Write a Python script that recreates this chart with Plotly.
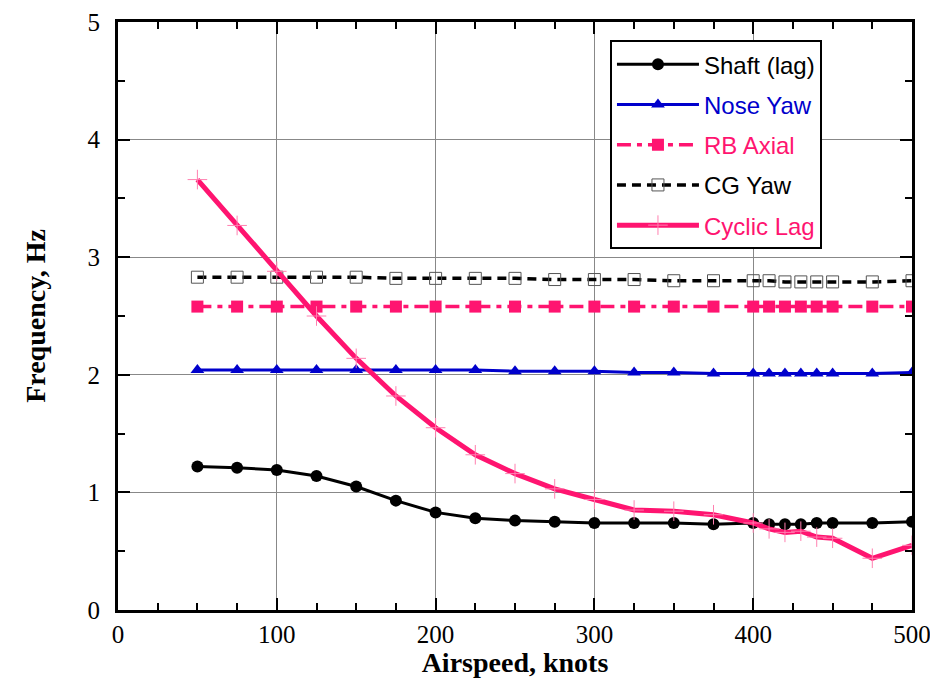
import plotly.graph_objects as go

airspeed = [50, 75, 100, 125, 150, 175, 200, 225, 250, 275, 300, 325, 350, 375, 400,
            410, 420, 430, 440, 450, 475, 500]

shaft_lag = [1.22, 1.21, 1.19, 1.14, 1.05, 0.93, 0.83, 0.78, 0.76, 0.75, 0.74, 0.74, 0.74, 0.73, 0.74,
             0.73, 0.73, 0.73, 0.74, 0.74, 0.74, 0.75]
nose_yaw = [2.04, 2.04, 2.04, 2.04, 2.04, 2.04, 2.04, 2.04, 2.03, 2.03, 2.03, 2.02, 2.02, 2.01, 2.01,
            2.01, 2.01, 2.01, 2.01, 2.01, 2.01, 2.02]
rb_axial = [2.58, 2.58, 2.58, 2.58, 2.58, 2.58, 2.58, 2.58, 2.58, 2.58, 2.58, 2.58, 2.58, 2.58, 2.58,
            2.58, 2.58, 2.58, 2.58, 2.58, 2.58, 2.58]
cg_yaw = [2.83, 2.83, 2.83, 2.83, 2.83, 2.82, 2.82, 2.82, 2.82, 2.81, 2.81, 2.81, 2.80, 2.80, 2.80,
          2.80, 2.79, 2.79, 2.79, 2.79, 2.79, 2.80]
cyclic_lag = [3.66, 3.27, 2.88, 2.50, 2.14, 1.82, 1.55, 1.32, 1.16, 1.03, 0.94, 0.85, 0.84, 0.81, 0.74,
              0.69, 0.66, 0.67, 0.62, 0.61, 0.44, 0.55]

PINK = "#FF1470"
BLUE = "#0000CC"

fig = go.Figure()

fig.add_trace(go.Scatter(
    x=airspeed, y=shaft_lag, mode="lines+markers", legendgroup="a",
    name="<span style='color:black'>Shaft (lag)</span>",
    line=dict(color="black", width=3),
    marker=dict(symbol="circle", size=12, color="black")))
fig.add_trace(go.Scatter(
    x=airspeed, y=nose_yaw, mode="lines+markers", legendgroup="b",
    name=f"<span style='color:{BLUE}'>Nose Yaw</span>",
    line=dict(color=BLUE, width=3),
    marker=dict(symbol="triangle-up", size=12, color=BLUE)))
fig.add_trace(go.Scatter(
    x=airspeed, y=rb_axial, mode="lines+markers", legendgroup="c",
    name=f"<span style='color:{PINK}'>RB Axial</span>",
    line=dict(color=PINK, width=3.5, dash="14px,6px,5px,6px"),
    marker=dict(symbol="square", size=12, color=PINK)))
fig.add_trace(go.Scatter(
    x=airspeed, y=cg_yaw, mode="lines+markers", legendgroup="d",
    name="<span style='color:black'>CG Yaw</span>",
    line=dict(color="black", width=3.5, dash="9px,6px"),
    marker=dict(symbol="square-open", size=12, color="#555555", line=dict(width=1))))
fig.add_trace(go.Scatter(
    x=airspeed, y=cyclic_lag, mode="lines+markers", legendgroup="e",
    name=f"<span style='color:{PINK}'>Cyclic Lag</span>",
    line=dict(color=PINK, width=5),
    marker=dict(symbol="cross-thin", size=14, color="#FF80B0", line=dict(width=1, color="#FF80B0"))))

axis_common = dict(
    showline=True, linecolor="black", linewidth=3, mirror="ticks",
    ticks="inside", ticklen=12, tickwidth=2, tickcolor="black",
    showgrid=True, gridcolor="#888888", gridwidth=1, zeroline=False,
    automargin=False, ticklabeloverflow="allow",
    tickfont=dict(family="Liberation Serif", size=25, color="black"),
)

fig.update_xaxes(
    range=[0, 500], dtick=100, tick0=0,
    minor=dict(dtick=25, ticks="inside", ticklen=7, tickwidth=2, tickcolor="black", showgrid=False),
    title=dict(text="<b>Airspeed, knots</b>", font=dict(family="Liberation Serif", size=28, color="black"), standoff=6),
    **axis_common)
fig.update_yaxes(
    range=[0, 5], dtick=1, tick0=0, ticklabelstandoff=10,
    minor=dict(dtick=0.5, ticks="inside", ticklen=7, tickwidth=2, tickcolor="black", showgrid=False),
    title=dict(text="<b>Frequency, Hz</b>", font=dict(family="Liberation Serif", size=28, color="black"), standoff=34),
    **axis_common)

fig.update_layout(
    width=922, height=670,
    margin=dict(l=110, r=18, t=14, b=68),
    plot_bgcolor="white", paper_bgcolor="white",
    legend=dict(
        x=0.6196, y=0.969, xanchor="left", yanchor="top",
        bgcolor="white", bordercolor="black", borderwidth=2,
        font=dict(family="Liberation Sans", size=24, color="black"),
        tracegroupgap=6, itemwidth=82,
    ),
)

fig.write_html("out.html")
